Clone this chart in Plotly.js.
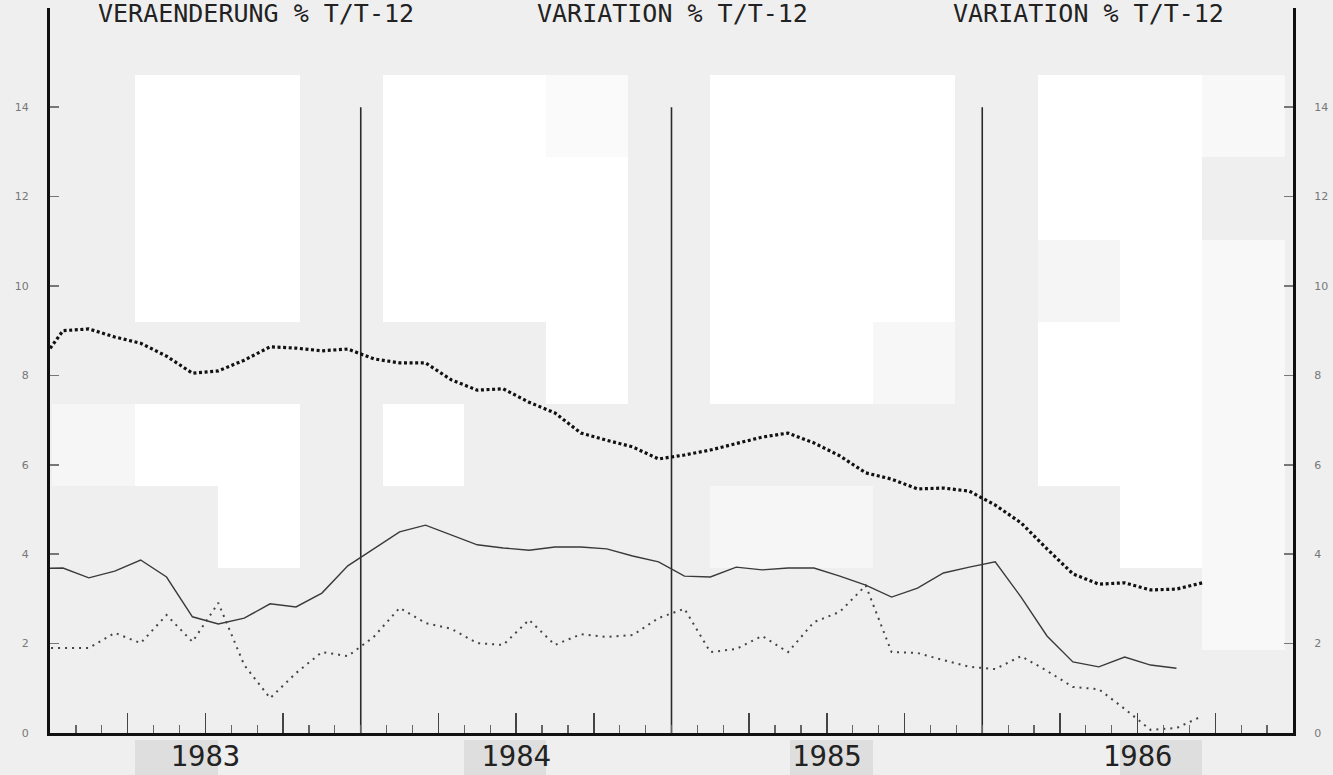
<!DOCTYPE html>
<html><head><meta charset="utf-8">
<script src="https://cdn.plot.ly/plotly-3.0.1.min.js"></script>
<style>html,body{margin:0;padding:0;background:#efefef;overflow:hidden}</style>
</head><body><div id="chart" style="width:1333px;height:775px"></div>
<script>
// ---- data ----
const months = [
 '1982-12',
 '1983-01','1983-02','1983-03','1983-04','1983-05','1983-06','1983-07','1983-08','1983-09','1983-10','1983-11','1983-12',
 '1984-01','1984-02','1984-03','1984-04','1984-05','1984-06','1984-07','1984-08','1984-09','1984-10','1984-11','1984-12',
 '1985-01','1985-02','1985-03','1985-04','1985-05','1985-06','1985-07','1985-08','1985-09','1985-10','1985-11','1985-12',
 '1986-01','1986-02','1986-03','1986-04','1986-05','1986-06','1986-07','1986-08','1986-09'
];
// heavy dotted series
const seriesA = [8.20,
 9.00,9.04,8.86,8.72,8.43,8.05,8.10,8.34,8.64,8.61,8.55,8.59,
 8.37,8.28,8.28,7.90,7.67,7.70,7.40,7.16,6.71,6.55,6.40,6.13,
 6.22,6.33,6.47,6.62,6.71,6.49,6.20,5.82,5.68,5.46,5.48,5.41,
 5.10,4.70,4.12,3.56,3.33,3.36,3.20,3.22,3.36];
// solid series
const seriesB = [3.68,
 3.69,3.47,3.62,3.87,3.49,2.60,2.44,2.57,2.89,2.82,3.13,3.74,
 4.12,4.50,4.65,4.43,4.21,4.14,4.09,4.16,4.16,4.12,3.96,3.83,
 3.51,3.49,3.71,3.65,3.69,3.69,3.51,3.31,3.04,3.24,3.58,3.71,
 3.83,3.04,2.17,1.59,1.48,1.70,1.52,1.45];
// light dotted series
const seriesC = [1.90,
 1.90,1.90,2.24,2.01,2.64,2.04,2.91,1.52,0.78,1.34,1.81,1.72,
 2.15,2.80,2.46,2.33,2.01,1.97,2.53,1.97,2.21,2.15,2.19,2.57,
 2.78,1.81,1.88,2.17,1.81,2.48,2.71,3.30,1.81,1.79,1.63,1.48,
 1.43,1.72,1.39,1.03,0.98,0.54,0.07,0.11,0.38];
const years = [1983,1984,1985,1986];
const yearLabels = ['1983','1984','1985','1986'];
const yTicks = [0,2,4,6,8,10,12,14];
const titles = ['VERAENDERUNG % T/T-12','VARIATION % T/T-12','VARIATION % T/T-12'];

// ---- helpers ----
const W = 1333, H = 775;
const px = x => x / W, py = y => 1 - y / H;
const monthX = m => { const [yy, mm] = m.split('-').map(Number); return yy + (mm - 0.5) / 12; };
const xs = arr => arr.map((_, i) => monthX(months[i]));

// scan background blocks (pixel rects: x0,y0,x1,y1,color)
const blocks = [
 [135,75,300,322,'#ffffff'],[135,404,300,486,'#ffffff'],[218,486,300,568,'#ffffff'],[52,404,135,486,'#f6f6f6'],
 [383,75,546,322,'#ffffff'],[546,75,628,157,'#fafafa'],[546,157,628,404,'#ffffff'],[383,404,464,486,'#ffffff'],
 [710,75,955,322,'#ffffff'],[710,322,873,404,'#ffffff'],[873,322,955,404,'#f7f7f7'],[710,486,873,568,'#f6f6f6'],
 [1038,75,1202,240,'#ffffff'],[1038,240,1120,322,'#f5f5f5'],[1120,240,1202,322,'#ffffff'],[1038,322,1202,486,'#ffffff'],
 [1120,486,1202,568,'#ffffff'],[1202,75,1285,157,'#f8f8f8'],[1202,240,1285,650,'#f8f8f8'],
 [135,740,218,775,'#dedede'],[464,740,546,775,'#dedede'],[790,740,873,775,'#dedede'],[1120,740,1202,775,'#dedede']
];
const shapes = blocks.map(b => ({type:'rect', xref:'paper', yref:'paper', x0:px(b[0]), x1:px(b[2]), y0:py(b[3]), y1:py(b[1]),
  fillcolor:b[4], line:{width:0}, layer:'below'}));
years.slice(1).forEach(y => shapes.push({type:'line', xref:'x', yref:'y', x0:y, x1:y, y0:0, y1:14,
  line:{color:'#2a2a2a', width:1.6}, layer:'below'}));

const quarterTicks = [];
years.forEach(y => { quarterTicks.push(y + 0.25, y + 0.5, y + 0.75); });
const yearMid = years.map(y => y + 0.5);

const titleX = [256, 672, 1088];
const annotations = titles.map((t, i) => ({text:t, xref:'paper', yref:'paper', x:px(titleX[i]), y:py(30),
  xanchor:'center', yanchor:'bottom', showarrow:false,
  font:{family:'DejaVu Sans Mono, monospace', size:25, color:'#222'}}));

const yTop = (733 - 8) / 44.7;

const traces = [
 {x: xs(seriesA), y: seriesA, type:'scatter', mode:'lines', line:{color:'#111', width:3.2, dash:'3px,2.6px'}, hoverinfo:'skip'},
 {x: xs(seriesB), y: seriesB, type:'scatter', mode:'lines', line:{color:'#3a3a3a', width:1.4}, hoverinfo:'skip'},
 {x: xs(seriesC), y: seriesC, xaxis:'x2', yaxis:'y2', type:'scatter', mode:'lines', line:{color:'#444', width:2, dash:'2px,5px'}, hoverinfo:'skip'}
];

const layout = {
  width:W, height:H, margin:{l:0,r:0,t:0,b:0},
  paper_bgcolor:'#efefef', plot_bgcolor:'rgba(0,0,0,0)', showlegend:false,
  xaxis:{domain:[px(50), px(1293)], range:[1983,1987], showgrid:false, zeroline:false,
    showline:true, linecolor:'#111', linewidth:3,
    tickmode:'array', tickvals:quarterTicks, ticks:'inside', ticklen:20, tickwidth:1.5, tickcolor:'#444',
    showticklabels:false,
    minor:{tickmode:'linear', tick0:1983, dtick:1/12, ticks:'inside', ticklen:8, tickwidth:1.2, tickcolor:'#666'}},
  xaxis2:{overlaying:'x', anchor:'y', side:'bottom', range:[1983,1987], showgrid:false, zeroline:false, showline:false,
    tickmode:'array', tickvals:yearMid, ticktext:yearLabels, ticks:'',
    tickfont:{family:'DejaVu Sans Mono, monospace', size:29, color:'#222'}, ticklabelstandoff:3},
  yaxis:{domain:[py(733), py(8)], range:[0, yTop], showgrid:false, zeroline:false,
    showline:true, linecolor:'#111', linewidth:3,
    tickmode:'array', tickvals:yTicks, ticks:'inside', ticklen:9, tickwidth:1.5, tickcolor:'#777',
    tickfont:{family:'DejaVu Sans, sans-serif', size:11, color:'#777'}, ticklabelstandoff:16},
  yaxis2:{overlaying:'y', side:'right', anchor:'x', range:[0, yTop], showgrid:false, zeroline:false,
    showline:true, linecolor:'#111', linewidth:3,
    tickmode:'array', tickvals:yTicks, ticks:'inside', ticklen:9, tickwidth:1.5, tickcolor:'#777',
    tickfont:{family:'DejaVu Sans, sans-serif', size:11, color:'#777'}, ticklabelstandoff:16},
  shapes:shapes, annotations:annotations
};
Plotly.newPlot('chart', traces, layout, {staticPlot:true, displayModeBar:false});
</script>
</body></html>
